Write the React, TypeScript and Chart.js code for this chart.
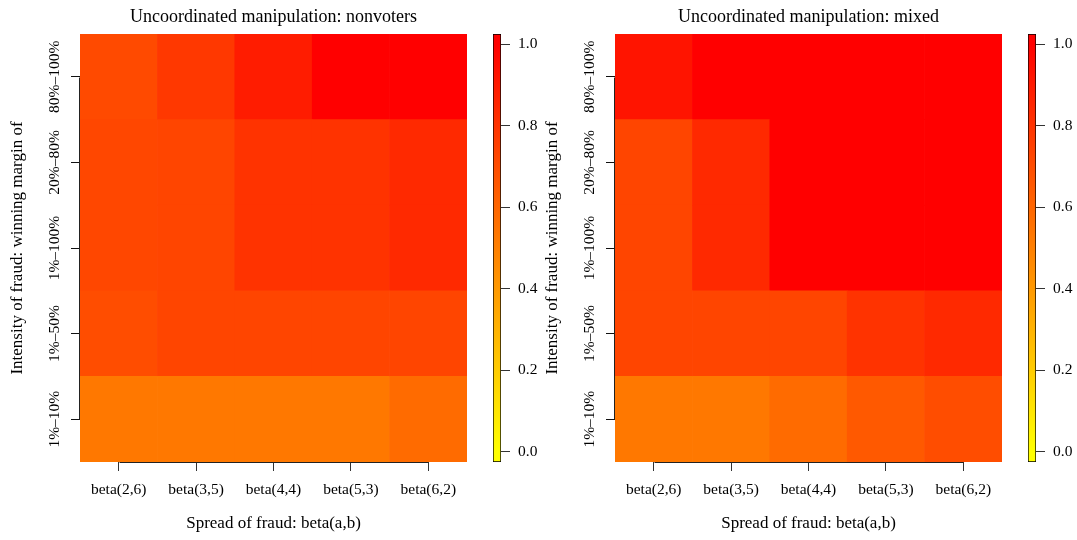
import React, { useEffect, useRef } from 'react';
import { Chart, registerables } from 'chart.js';

Chart.register(...registerables);

const FONT = "'Liberation Serif', 'Times New Roman', serif";

// Rows listed bottom to top
const ROW_LABELS = ['1%–10%', '1%–50%', '1%–100%', '20%–80%', '80%–100%'];
const COL_LABELS = ['beta(2,6)', 'beta(3,5)', 'beta(4,4)', 'beta(5,3)', 'beta(6,2)'];

const X_TITLE = 'Spread of fraud: beta(a,b)';
const Y_TITLE = 'Intensity of fraud: winning margin of';

const TITLE_NONVOTERS = 'Uncoordinated manipulation: nonvoters';
const TITLE_MIXED = 'Uncoordinated manipulation: mixed';

// Nonvoters panel values (rows bottom to top)
const NONVOTERS_1_10 = [0.53, 0.53, 0.53, 0.53, 0.58];
const NONVOTERS_1_50 = [0.70, 0.73, 0.73, 0.73, 0.73];
const NONVOTERS_1_100 = [0.72, 0.73, 0.80, 0.80, 0.84];
const NONVOTERS_20_80 = [0.72, 0.73, 0.80, 0.80, 0.84];
const NONVOTERS_80_100 = [0.71, 0.78, 0.89, 1.0, 1.0];

// Mixed panel values (rows bottom to top)
const MIXED_1_10 = [0.53, 0.53, 0.58, 0.65, 0.70];
const MIXED_1_50 = [0.73, 0.73, 0.73, 0.80, 0.84];
const MIXED_1_100 = [0.73, 0.84, 1.0, 1.0, 1.0];
const MIXED_20_80 = [0.73, 0.84, 1.0, 1.0, 1.0];
const MIXED_80_100 = [0.92, 1.0, 1.0, 1.0, 1.0];

const COLORBAR_TICKS = [0, 0.2, 0.4, 0.6, 0.8, 1.0];
const COLORBAR_MIN = -0.025;
const COLORBAR_MAX = 1.025;

function heatColor(v: number): string {
  const t = Math.max(0, Math.min(1, v));
  return `rgb(255, ${Math.round(255 * (1 - t))}, 0)`;
}

const axisLinePlugin = {
  id: 'axisLine',
  afterDraw(chart: any) {
    const ctx = chart.ctx;
    const { x, y } = chart.scales;
    const area = chart.chartArea;
    ctx.save();
    ctx.strokeStyle = '#222';
    ctx.lineWidth = 1;
    // x axis line between first and last tick
    const x0 = x.getPixelForTick(0);
    const x1 = x.getPixelForTick(x.ticks.length - 1);
    const yb = Math.round(area.bottom) + 0.5;
    ctx.beginPath();
    ctx.moveTo(Math.round(x0) + 0.5, yb);
    ctx.lineTo(Math.round(x1) + 0.5, yb);
    ctx.stroke();
    // y axis line between first and last tick
    const y0 = y.getPixelForValue(y.ticks[0].value);
    const y1 = y.getPixelForValue(y.ticks[y.ticks.length - 1].value);
    const xl = Math.round(area.left) - 0.5;
    ctx.beginPath();
    ctx.moveTo(xl, Math.round(y0) + 0.5);
    ctx.lineTo(xl, Math.round(y1) + 0.5);
    ctx.stroke();
    ctx.restore();
  },
};

function Heatmap({ title, rows, left }: { title: string; rows: number[][]; left: number }) {
  const ref = useRef<HTMLCanvasElement>(null);
  useEffect(() => {
    const chart = new Chart(ref.current as HTMLCanvasElement, {
      type: 'bar',
      data: {
        labels: COL_LABELS,
        datasets: rows.map((vals, i) => ({
          label: ROW_LABELS[i],
          data: vals.map(() => [i, i + 1]),
          backgroundColor: vals.map(heatColor),
          borderWidth: 0,
          grouped: false,
          categoryPercentage: 1,
          barPercentage: 1,
        })) as any,
      },
      options: {
        responsive: false,
        animation: false,
        devicePixelRatio: 1,
        layout: { padding: { left: 0, right: 13, top: 0, bottom: 0 } },
        plugins: {
          legend: { display: false },
          tooltip: { enabled: false },
          title: {
            display: true,
            text: title,
            fullSize: false,
            color: '#000',
            font: { family: FONT, size: 18, weight: 'normal', lineHeight: 1.2 },
            padding: { top: 6.2, bottom: 6.2 },
          },
        },
        scales: {
          x: {
            type: 'category',
            offset: true,
            grid: { offset: false, drawOnChartArea: false, drawTicks: true, tickLength: 9, color: '#333' },
            border: { display: false },
            ticks: {
              color: '#000',
              font: { family: FONT, size: 15.5 },
              padding: 10,
              maxRotation: 0,
              minRotation: 0,
              autoSkip: false,
            },
            title: {
              display: true,
              text: X_TITLE,
              color: '#000',
              font: { family: FONT, size: 17, lineHeight: 1.2 },
              padding: { top: 0, bottom: 6 },
            },
            afterFit: (s: any) => {
              s.height = 78;
            },
          },
          y: {
            type: 'linear',
            min: 0,
            max: ROW_LABELS.length,
            afterBuildTicks: (s: any) => {
              s.ticks = ROW_LABELS.map((_, i) => ({ value: i + 0.5 }));
            },
            grid: { drawOnChartArea: false, drawTicks: true, tickLength: 9, color: '#111' },
            border: { display: false },
            ticks: {
              color: '#000',
              font: { family: FONT, size: 15.5 },
              minRotation: 90,
              maxRotation: 90,
              crossAlign: 'center',
              padding: -20,
              callback: (_v: any, i: number) => ROW_LABELS[i],
            },
            title: {
              display: true,
              text: Y_TITLE,
              color: '#000',
              font: { family: FONT, size: 17, lineHeight: 1.2 },
              padding: { top: 7, bottom: 0 },
            },
            afterFit: (s: any) => {
              s.width = 80;
            },
          },
        },
      } as any,
      plugins: [axisLinePlugin],
    });
    return () => chart.destroy();
  }, [title, rows]);
  return (
    <canvas
      ref={ref}
      width={480}
      height={540}
      style={{ position: 'absolute', left, top: 0, width: 480, height: 540 }}
    />
  );
}

function ColorBar({ left }: { left: number }) {
  const ref = useRef<HTMLCanvasElement>(null);
  useEffect(() => {
    const chart = new Chart(ref.current as HTMLCanvasElement, {
      type: 'bar',
      data: {
        labels: [''],
        datasets: [
          {
            data: [[COLORBAR_MIN, COLORBAR_MAX]] as any,
            backgroundColor: (c: any) => {
              const ch = c.chart;
              const ys = ch.scales && ch.scales.y;
              if (!ch.chartArea || !ys) return 'rgb(255,128,0)';
              const g = ch.ctx.createLinearGradient(0, ys.getPixelForValue(0), 0, ys.getPixelForValue(1));
              g.addColorStop(0, heatColor(0));
              g.addColorStop(1, heatColor(1));
              return g;
            },
            borderColor: '#000',
            borderWidth: 1,
            borderSkipped: false,
            categoryPercentage: 1,
            barPercentage: 1,
          },
        ],
      },
      options: {
        responsive: false,
        animation: false,
        devicePixelRatio: 1,
        layout: { padding: { left: 13, right: 0, top: 34, bottom: 78 } },
        plugins: {
          legend: { display: false },
          tooltip: { enabled: false },
          title: { display: false },
        },
        scales: {
          x: { display: false },
          y: {
            position: 'right',
            min: COLORBAR_MIN,
            max: COLORBAR_MAX,
            afterBuildTicks: (s: any) => {
              s.ticks = COLORBAR_TICKS.map((v) => ({ value: v }));
            },
            grid: { drawOnChartArea: false, drawTicks: true, tickLength: 9, color: '#333' },
            border: { display: false },
            ticks: {
              color: '#000',
              font: { family: FONT, size: 15.5 },
              padding: 8,
              callback: (v: any) => Number(v).toFixed(1),
            },
            afterFit: (s: any) => {
              s.width = 59;
            },
          },
        },
      } as any,
    });
    return () => chart.destroy();
  }, []);
  return (
    <canvas
      ref={ref}
      width={80}
      height={540}
      style={{ position: 'absolute', left, top: 0, width: 80, height: 540 }}
    />
  );
}

const NONVOTERS_ROWS = [NONVOTERS_1_10, NONVOTERS_1_50, NONVOTERS_1_100, NONVOTERS_20_80, NONVOTERS_80_100];
const MIXED_ROWS = [MIXED_1_10, MIXED_1_50, MIXED_1_100, MIXED_20_80, MIXED_80_100];

export default function App() {
  return (
    <div
      style={{
        position: 'absolute',
        left: 0,
        top: 0,
        width: 1077,
        height: 540,
        background: '#fff',
        overflow: 'hidden',
      }}
    >
      <Heatmap title={TITLE_NONVOTERS} rows={NONVOTERS_ROWS} left={0} />
      <ColorBar left={480} />
      <Heatmap title={TITLE_MIXED} rows={MIXED_ROWS} left={535} />
      <ColorBar left={1015} />
    </div>
  );
}
